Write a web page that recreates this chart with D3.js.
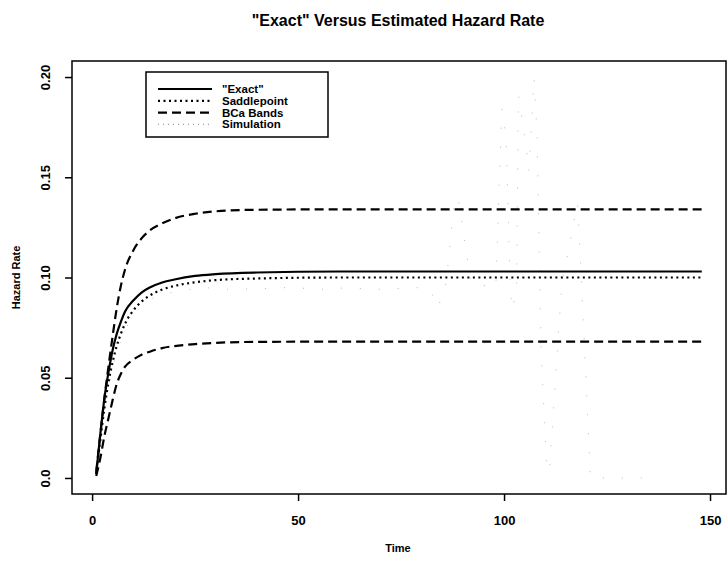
<!DOCTYPE html>
<html>
<head>
<meta charset="utf-8">
<script src="https://cdn.jsdelivr.net/npm/d3@7"></script>
<style>
  body { margin: 0; background: #fff; }
  svg { font-family: "Liberation Sans", Arial, Helvetica, sans-serif; }
</style>
</head>
<body>
<div id="chart"></div>
<script>
// "Exact" vs estimated hazard rate, R-style line plot

// Time points shared by the smooth curves
const times = [1, 2, 3, 4, 5, 6, 7, 8, 10, 12, 14, 17, 20, 25, 30, 40, 60, 100, 148];
const exactRate  = [0.002, 0.022, 0.040, 0.053, 0.064, 0.072, 0.078, 0.083, 0.0885, 0.0925, 0.095, 0.0975, 0.099, 0.1008, 0.1017, 0.1025, 0.103, 0.103, 0.103];
const saddleRate = [0.002, 0.019, 0.035, 0.048, 0.058, 0.066, 0.072, 0.077, 0.0835, 0.088, 0.091, 0.094, 0.0958, 0.0976, 0.0987, 0.0995, 0.100, 0.100, 0.100];
const bcaUpper   = [0.003, 0.022, 0.040, 0.056, 0.071, 0.085, 0.096, 0.104, 0.1135, 0.1195, 0.1235, 0.127, 0.1295, 0.1318, 0.133, 0.1338, 0.134, 0.134, 0.134];
const bcaLower   = [0.001, 0.010, 0.021, 0.030, 0.039, 0.047, 0.052, 0.0555, 0.059, 0.0615, 0.063, 0.0648, 0.0658, 0.0668, 0.0674, 0.0679, 0.068, 0.068, 0.068];

// Simulated estimate (noisy in the tail)
const simTimes = [1, 2, 3, 4, 5, 6, 8, 10, 12, 15, 20, 27, 34, 48, 57, 62, 68, 80, 82, 84, 86, 88, 89, 92, 98, 99, 99.5, 100.5, 101.5, 102, 103, 103.5, 104, 105.5, 106, 107.3, 108, 109, 110.4, 111, 114, 117.8, 118, 121, 128, 136.7];
const simRate  = [0.002, 0.018, 0.033, 0.045, 0.055, 0.063, 0.074, 0.081, 0.086, 0.090, 0.093, 0.095, 0.094, 0.095, 0.094, 0.095, 0.094, 0.095, 0.094, 0.085, 0.098, 0.140, 0.138, 0.097, 0.095, 0.157, 0.184, 0.170, 0.094, 0.084, 0.095, 0.191, 0.184, 0.163, 0.153, 0.1995, 0.172, 0.062, 0.006, 0.003, 0.096, 0.137, 0.132, 0.000, 0.000, 0.000];

const xTicks = [0, 50, 100, 150];
const yTicks = [0, 0.05, 0.10, 0.15, 0.20];
const yTickLabels = ["0.0", "0.05", "0.10", "0.15", "0.20"];

const legendLabels = ['"Exact"', "Saddlepoint", "BCa Bands", "Simulation"];

const width = 728, height = 565;
const frame = { left: 72, right: 726, top: 61, bottom: 494 };

// R pads each axis by 4% of the data range
const pad = (ext) => { const d = (ext[1] - ext[0]) * 0.04; return [ext[0] - d, ext[1] + d]; };

const x = d3.scaleLinear()
    .domain(pad([1, 148]))
    .range([frame.left, frame.right]);

const y = d3.scaleLinear()
    .domain(pad([0, 0.2]))
    .range([frame.bottom, frame.top]);

const svg = d3.select("#chart").append("svg")
    .attr("width", width)
    .attr("height", height);

// Title
svg.append("text")
    .attr("x", 398)
    .attr("y", 26)
    .attr("text-anchor", "middle")
    .attr("font-size", 16)
    .attr("font-weight", "bold")
    .text('"Exact" Versus Estimated Hazard Rate');

// Frame box
svg.append("rect")
    .attr("x", frame.left)
    .attr("y", frame.top)
    .attr("width", frame.right - frame.left)
    .attr("height", frame.bottom - frame.top)
    .attr("fill", "none")
    .attr("stroke", "#000")
    .attr("stroke-width", 1.5);

// X axis
const xAxis = svg.append("g")
    .attr("transform", `translate(0,${frame.bottom})`)
    .call(d3.axisBottom(x).tickValues(xTicks).tickSize(7).tickPadding(15));
xAxis.select(".domain").remove();
xAxis.selectAll("line").attr("stroke-width", 1.5);
xAxis.selectAll("text")
    .attr("font-size", 13)
    .attr("font-weight", "bold")
    .attr("font-family", "Liberation Sans, Arial, sans-serif");

// Y axis with rotated labels
const yAxis = svg.append("g")
    .attr("transform", `translate(${frame.left},0)`)
    .call(d3.axisLeft(y).tickValues(yTicks).tickSize(7).tickFormat((d, i) => yTickLabels[i]));
yAxis.select(".domain").remove();
yAxis.selectAll("line").attr("stroke-width", 1.5);
yAxis.selectAll("text")
    .attr("font-size", 13)
    .attr("font-weight", "bold")
    .attr("font-family", "Liberation Sans, Arial, sans-serif")
    .attr("text-anchor", "middle")
    .attr("x", null)
    .attr("dy", null)
    .attr("transform", "translate(-22,0) rotate(-90)");

// Axis titles
svg.append("text")
    .attr("x", 398)
    .attr("y", 552)
    .attr("text-anchor", "middle")
    .attr("font-size", 11)
    .attr("font-weight", "bold")
    .text("Time");

svg.append("text")
    .attr("transform", `translate(20,${(frame.top + frame.bottom) / 2}) rotate(-90)`)
    .attr("text-anchor", "middle")
    .attr("font-size", 11)
    .attr("font-weight", "bold")
    .text("Hazard Rate");

// Series
const line = d3.line()
    .x(d => x(d[0]))
    .y(d => y(d[1]))
    .curve(d3.curveMonotoneX);

const simLine = d3.line()
    .x(d => x(d[0]))
    .y(d => y(d[1]));

const styles = [
  { dash: null,     color: "#000", w: 2.2 },
  { dash: "2,3.5",  color: "#000", w: 2.2 },
  { dash: "9,5",    color: "#000", w: 2.2 },
  { dash: "1,18",   color: "#b8b8b8", w: 1 }
];

const plot = svg.append("g");

const drawCurve = (vals, st) => plot.append("path")
    .datum(times.map((t, i) => [t, vals[i]]))
    .attr("fill", "none")
    .attr("stroke", st.color)
    .attr("stroke-width", st.w)
    .attr("stroke-dasharray", st.dash)
    .attr("d", line);

plot.append("path")
    .datum(simTimes.map((t, i) => [t, simRate[i]]))
    .attr("fill", "none")
    .attr("stroke", styles[3].color)
    .attr("stroke-width", styles[3].w)
    .attr("stroke-dasharray", styles[3].dash)
    .attr("d", simLine);

drawCurve(bcaUpper, styles[2]);
drawCurve(bcaLower, styles[2]);
drawCurve(saddleRate, styles[1]);
drawCurve(exactRate, styles[0]);

// Legend
const lg = svg.append("g");
lg.append("rect")
    .attr("x", 146).attr("y", 72)
    .attr("width", 182).attr("height", 65)
    .attr("fill", "#fff")
    .attr("stroke", "#000")
    .attr("stroke-width", 1.5);

const legendStyles = [
  styles[0], styles[1], styles[2], { dash: "1,4", color: "#999", w: 1.2 }
];

legendLabels.forEach((lab, i) => {
  const ly = 89 + i * 11.8;
  lg.append("line")
      .attr("x1", 158).attr("x2", 212)
      .attr("y1", ly).attr("y2", ly)
      .attr("stroke", legendStyles[i].color)
      .attr("stroke-width", legendStyles[i].w)
      .attr("stroke-dasharray", legendStyles[i].dash);
  lg.append("text")
      .attr("x", 222).attr("y", ly + 4)
      .attr("font-size", 11.5)
      .attr("font-weight", "bold")
      .text(lab);
});
</script>
</body>
</html>
